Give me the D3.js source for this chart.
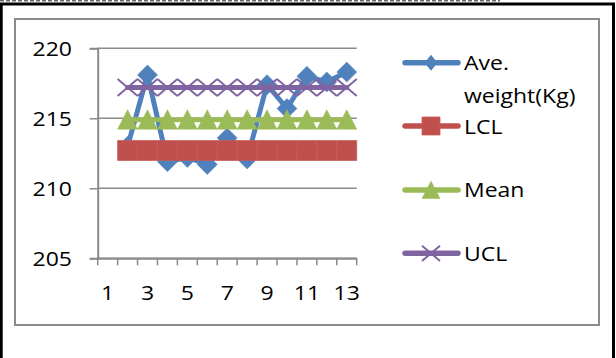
<!DOCTYPE html>
<html>
<head>
<meta charset="utf-8">
<script src="https://cdn.jsdelivr.net/npm/d3@7"></script>
<style>
  html, body { margin: 0; padding: 0; background: #fff; }
  svg { display: block; }
</style>
</head>
<body>
<svg id="chart" width="616" height="358"></svg>
<script>
// ---- data ----
const categories = [1, 2, 3, 4, 5, 6, 7, 8, 9, 10, 11, 12, 13];
const aveWeight = [null, 213.0, 218.1, 211.9, 212.2, 211.7, 213.6, 212.1, 217.4, 215.7, 218.0, 217.6, 218.3];
const lcl  = [null, 212.7, 212.7, 212.7, 212.7, 212.7, 212.7, 212.7, 212.7, 212.7, 212.7, 212.7, 212.7];
const mean = [null, 214.9, 214.9, 214.9, 214.9, 214.9, 214.9, 214.9, 214.9, 214.9, 214.9, 214.9, 214.9];
const ucl  = [null, 217.2, 217.2, 217.2, 217.2, 217.2, 217.2, 217.2, 217.2, 217.2, 217.2, 217.2, 217.2];
const yTicks = [205, 210, 215, 220];
const xTickLabels = [1, 3, 5, 7, 9, 11, 13];
const seriesNames = ["Ave.\nweight(Kg)", "LCL", "Mean", "UCL"];

const series = [
  { name: seriesNames[0], values: aveWeight, color: "#4F81BD", marker: "diamond" },
  { name: seriesNames[1], values: lcl,       color: "#C0504D", marker: "square" },
  { name: seriesNames[2], values: mean,      color: "#9BBB59", marker: "triangle" },
  { name: seriesNames[3], values: ucl,       color: "#8064A2", marker: "x" }
];

const FONT = "'Open Sans', Lato, sans-serif";
const FS = 20, SX = 1.15;

const svg = d3.select("#chart");

// outer frame
svg.append("line").attr("x1", 0).attr("x2", 500).attr("y1", 0.75).attr("y2", 0.75)
  .attr("stroke", "#666").attr("stroke-width", 1.5).attr("stroke-dasharray", "4,2");
svg.append("path").attr("d", "M1.2,358 V4 H613.5 V358")
  .attr("fill", "none").attr("stroke", "#000").attr("stroke-width", 3);

// chart area border
svg.append("rect").attr("x", 15).attr("y", 19).attr("width", 584).attr("height", 306)
  .attr("fill", "#fff").attr("stroke", "#8c8c8c").attr("stroke-width", 2);

const x = d3.scaleBand().domain(categories).range([97.7, 356.7]).padding(0);
const y = d3.scaleLinear().domain([205, 220]).range([258.3, 48.3]);
const cx = c => x(c) + x.bandwidth() / 2;

function stretchedText(g, tx, ty, str, anchor) {
  return g.append("text")
    .attr("transform", `translate(${tx},${ty}) scale(${SX},1)`)
    .attr("text-anchor", anchor || "start")
    .attr("font-family", FONT).attr("font-size", FS).attr("fill", "#000")
    .text(str);
}

const gridColor = "#8a8a8a";
// gridlines
svg.append("g").selectAll("line").data(yTicks).join("line")
  .attr("x1", x.range()[0]).attr("x2", x.range()[1])
  .attr("y1", d => y(d)).attr("y2", d => y(d))
  .attr("stroke", gridColor).attr("stroke-width", 1.5);

// y axis
const yAxis = svg.append("g").attr("transform", `translate(${x.range()[0]},0)`)
  .call(d3.axisLeft(y).tickValues(yTicks).tickSize(8).tickFormat(""));
yAxis.select(".domain").attr("stroke", gridColor).attr("stroke-width", 2);
yAxis.selectAll(".tick line").attr("stroke", gridColor).attr("stroke-width", 1.5);
yTicks.forEach(t => stretchedText(svg, 72, y(t) + 7.2, String(t), "end"));

// x axis (category boundary ticks)
const xAxis = svg.append("g").attr("transform", `translate(0,${y.range()[0]})`)
  .call(d3.axisBottom(x).tickValues([]).tickSize(0).tickSizeOuter(0));
xAxis.select(".domain").attr("stroke", gridColor).attr("stroke-width", 2);
const bounds = categories.map(c => x(c)).concat([x.range()[1]]);
xAxis.selectAll("line.bt").data(bounds).join("line").attr("class", "bt")
  .attr("x1", d => d).attr("x2", d => d).attr("y1", 0).attr("y2", 7)
  .attr("stroke", gridColor).attr("stroke-width", 1.5);
xTickLabels.forEach(c => stretchedText(svg, cx(c), 300, String(c), "middle"));

// marker path generator
function markerPath(type, s) {
  const h = s / 2;
  switch (type) {
    case "diamond": return `M0,${-h}L${h},0L0,${h}L${-h},0Z`;
    case "square": return `M${-h},${-h}H${h}V${h}H${-h}Z`;
    case "triangle": return `M0,${-h}L${h},${h * 0.95}L${-h},${h * 0.95}Z`;
    case "x": return `M${-h},${-h * 0.85}L${h},${h * 0.85}M${-h},${h * 0.85}L${h},${-h * 0.85}`;
  }
}
function drawMarker(g, type, color, s) {
  const p = g.append("path").attr("d", markerPath(type, s));
  if (type === "x") p.attr("fill", "none").attr("stroke", color).attr("stroke-width", 2);
  else if (type === "square") p.attr("fill", color).attr("stroke", "#c65b58").attr("stroke-width", 0.8);
  else p.attr("fill", color).attr("stroke", color).attr("stroke-width", 0.5);
  return p;
}

const line = d3.line()
  .defined(d => d.v != null)
  .x(d => cx(d.c)).y(d => y(d.v));

series.forEach(s => {
  const pts = categories.map((c, i) => ({ c, v: s.values[i] }));
  svg.append("path").datum(pts).attr("d", line)
    .attr("fill", "none").attr("stroke", s.color).attr("stroke-width", 5)
    .attr("stroke-linejoin", "round").attr("stroke-linecap", "round");
  pts.filter(d => d.v != null).forEach(d => {
    const g = svg.append("g").attr("transform", `translate(${cx(d.c)},${y(d.v)})`);
    drawMarker(g, s.marker, s.color, s.marker === "square" ? 19.9 : 20);
  });
});

// legend
const legendY = [62.7, 126, 190, 253.3];
const legendText = [[["Ave.", 70], ["weight(Kg)", 103]], [["LCL", 134]], [["Mean", 197.3]], [["UCL", 260.7]]];
series.forEach((s, i) => {
  const ly = legendY[i];
  svg.append("line").attr("x1", 405).attr("x2", 458).attr("y1", ly).attr("y2", ly)
    .attr("stroke", s.color).attr("stroke-width", 5.5).attr("stroke-linecap", "round");
  const g = svg.append("g").attr("transform", `translate(431,${ly})`);
  if (s.marker === "diamond") {
    g.append("path").attr("d", `M0,-8L6.5,0L0,8L-6.5,0Z`).attr("fill", s.color);
  } else {
    drawMarker(g, s.marker, s.color, 18);
  }
  legendText[i].forEach(([t, by]) => stretchedText(svg, 464, by, t, "start"));
});
</script>
</body>
</html>
